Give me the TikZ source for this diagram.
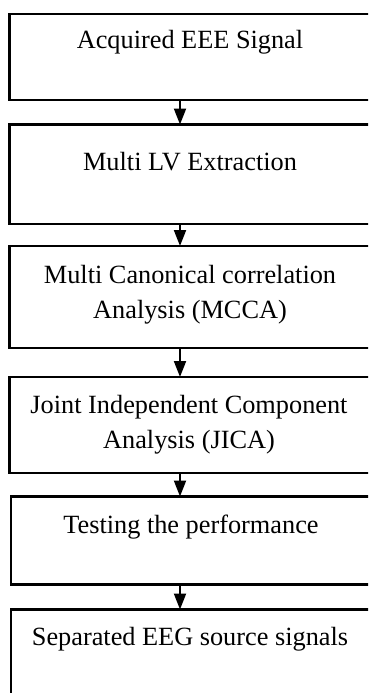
\documentclass[tikz,border=0pt]{standalone}
\usepackage{fontspec}
\setmainfont{Liberation Serif}
\usetikzlibrary{arrows.meta}

\begin{document}
\begin{tikzpicture}[x=1pt,y=-1pt,
  stagebox/.style={draw=black,line width=2.3pt,rectangle,outer sep=0pt,
    inner sep=0pt,anchor=north west,minimum width=#1},
  stagebox/.default=363.5pt,
  stagetext/.style={anchor=base,align=center,inner sep=0pt,
    font=\fontsize{26.3}{35}\selectfont},
  flow/.style={line width=2pt,-{Triangle[length=16pt,width=12pt]}}]
  \useasboundingbox (0,0) rectangle (368,693);
  \clip (0,0) rectangle (368,693);
  \fill[white] (0,0) rectangle (368,693);

  % stage frames
  \node[stagebox, minimum height=86.2pt] (b1) at (9.5,13.8) {};
  \node[stagebox, minimum height=99.5pt] (b2) at (9.5,124.5) {};
  \node[stagebox, minimum height=102pt]  (b3) at (9.5,246) {};
  \node[stagebox, minimum height=96pt]   (b4) at (9.5,377) {};
  \node[stagebox=361.7pt, minimum height=88pt] (b5) at (11.3,496.5) {};
  \node[stagebox=361.7pt, minimum height=95pt] (b6) at (11.3,609.5) {};

  % stage captions (base anchor of a two-line caption is its last line)
  \node[stagetext] (t1) at (190,48.5) {Acquired EEE Signal};
  \node[stagetext] (t2) at (190,170) {Multi LV Extraction};
  \node[stagetext] (t3) at (190,318) {Multi Canonical correlation\\Analysis (MCCA)};
  \node[stagetext] (t4) at (189,448) {Joint Independent Component\\Analysis (JICA)};
  \node[stagetext] (t5) at (191,533) {Testing the performance};
  \node[stagetext] (t6) at (190,645) {Separated EEG source signals};

  % flow arrows
  \coordinate (ax) at (180,0);
  \draw[flow] (b1.south -| ax) -- (b2.north -| ax);
  \draw[flow] (b2.south -| ax) -- (b3.north -| ax);
  \draw[flow] (b3.south -| ax) -- (b4.north -| ax);
  \draw[flow] (b4.south -| ax) -- (b5.north -| ax);
  \draw[flow] (b5.south -| ax) -- (b6.north -| ax);
\end{tikzpicture}
\end{document}
